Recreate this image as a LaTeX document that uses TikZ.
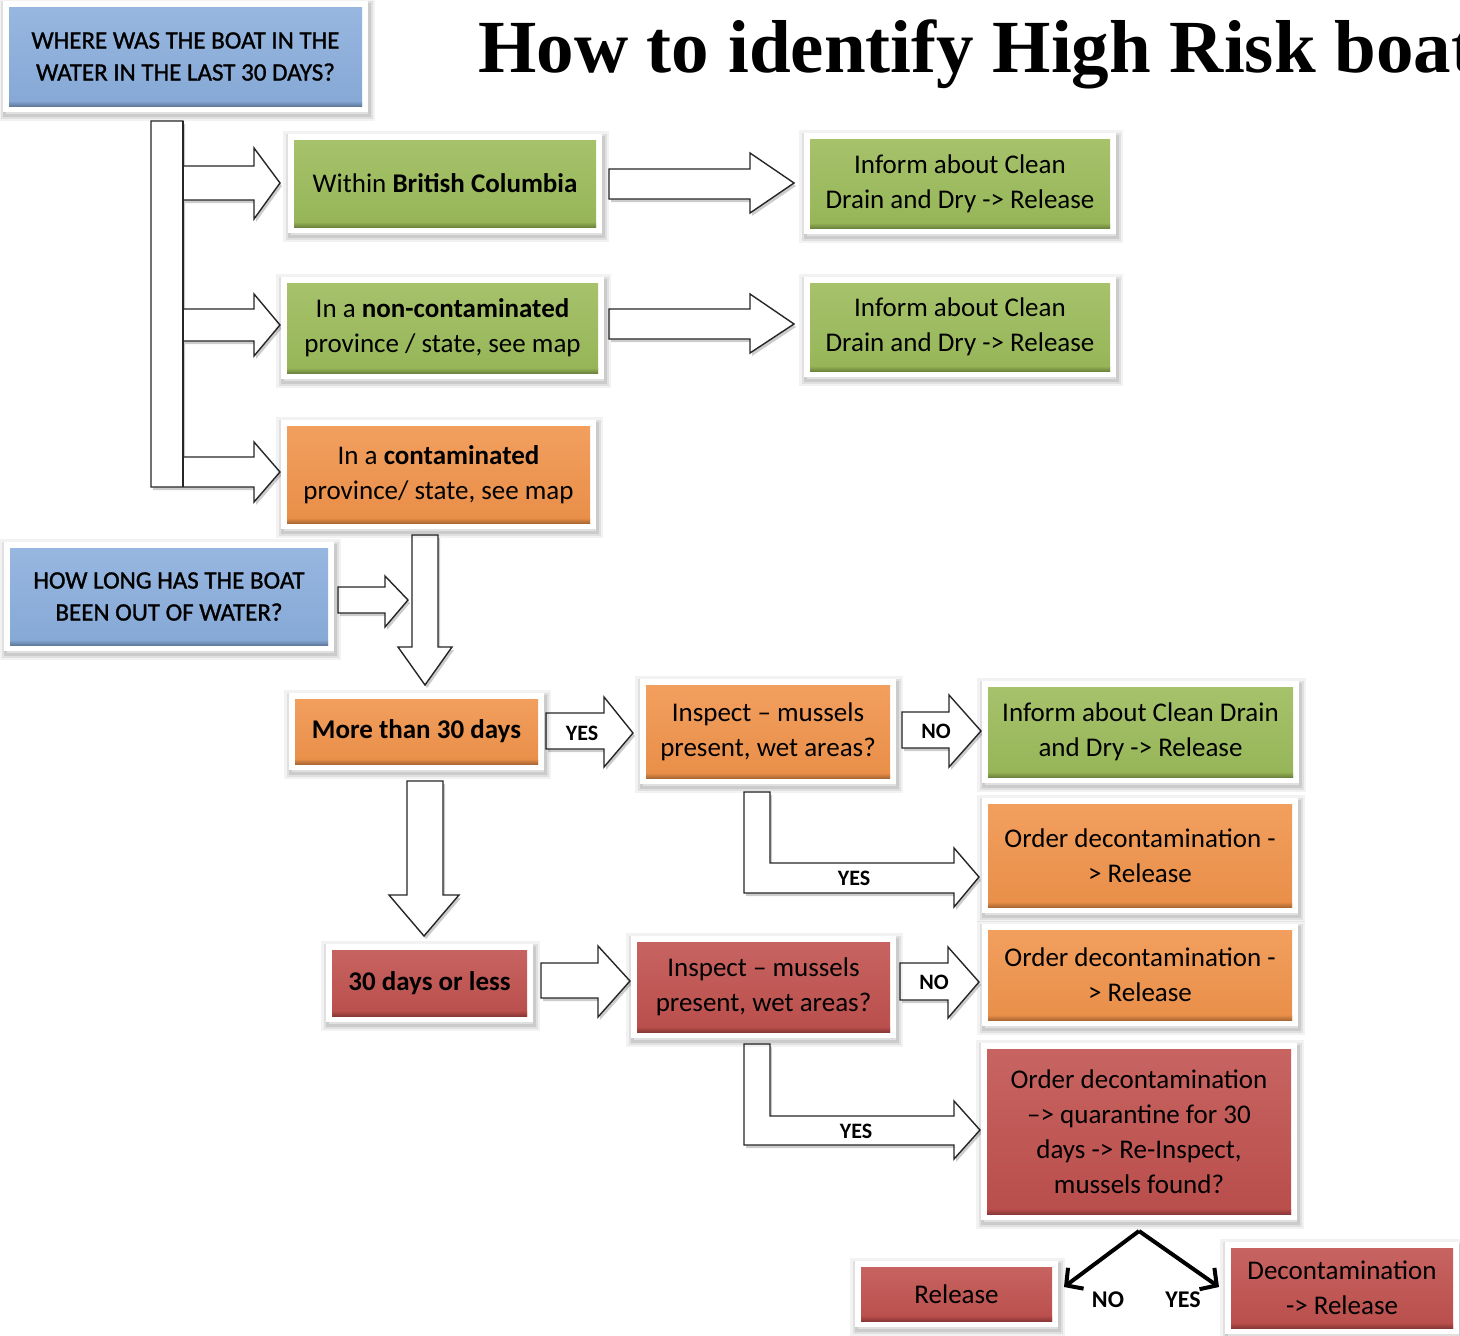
\documentclass[tikz,border=0pt]{standalone}
\usepackage{fontspec}
\setmainfont{Carlito}
\newfontfamily\capsfam[FakeBold=1.2]{Carlito}
\newfontfamily\titlefont{Liberation Serif}
\usetikzlibrary{shadows,arrows.meta}
\definecolor{cblue}{HTML}{8AAEDD}
\definecolor{cgreen}{HTML}{9BBB59}
\definecolor{corange}{HTML}{F1934A}
\definecolor{cred}{HTML}{C0504D}
\tikzset{
  fb/.style={rectangle, fill=white, inner sep=0pt, align=center,
    font=\fontsize{27}{35}\selectfont, text=black,
    preaction={draw=black, opacity=0.05, line width=12pt, transform canvas={xshift=1pt,yshift=-3pt}},
    preaction={draw=black, opacity=0.07, line width=7pt, transform canvas={xshift=1pt,yshift=-3pt}},
    preaction={draw=black, opacity=0.09, line width=3pt, transform canvas={xshift=1pt,yshift=-3pt}},
    path picture={
      \shade[top color=#1!88!white, bottom color=#1!96!black]
        ([shift={(6pt,6pt)}]path picture bounding box.south west) rectangle
        ([shift={(-6pt,-6pt)}]path picture bounding box.north east);
      \shade[top color=#1!96!black, bottom color=#1!65!black, opacity=0.8]
        ([shift={(6pt,6pt)}]path picture bounding box.south west) rectangle
        ([shift={(-6pt,11pt)}]path picture bounding box.south east);
    }},
  capsfont/.style={font=\capsfam\fontsize{25}{32}\selectfont},
  barrow/.style={draw=black!85, line width=1.4pt, fill=white, line join=miter,
    drop shadow={shadow xshift=2pt, shadow yshift=-3pt, opacity=0.2, fill=black}},
  albl/.style={font=\fontsize{22}{24}\selectfont\bfseries, inner sep=0pt, text=black},
  blbl/.style={font=\fontsize{24}{26}\selectfont\bfseries, inner sep=0pt, text=black},
  blk/.style={line width=4pt, -{Straight Barb[length=12pt,width=26pt,line width=4pt]}},
}
\begin{document}
\begin{tikzpicture}[x=1pt,y=-1pt]
\useasboundingbox (0,0) rectangle (1460,1336);
\clip (0,0) rectangle (1460,1336);
\fill[white] (0,0) rectangle (1460,1336);

% title
\node[anchor=base west, inner sep=0pt, font=\titlefont\bfseries\fontsize{75}{80}\selectfont] (title) at (478,72) {How to identify High Risk boat};

% block arrows
\draw[barrow] (151,121) -- (183,121) -- (183,166) -- (254,166) -- (254,148) -- (280,183) -- (254,219) -- (254,200) -- (183,200)
  -- (183,309) -- (254,309) -- (254,294) -- (280,325) -- (254,356) -- (254,341) -- (183,341)
  -- (183,457) -- (254,457) -- (254,442) -- (280,472) -- (254,502) -- (254,487) -- (151,487) -- cycle;
\draw[black!85, line width=1.4pt] (183,121) -- (183,487);
\draw[barrow] (609,169) -- (750,169) -- (750,153) -- (794,183) -- (750,213) -- (750,199) -- (609,199) -- cycle;
\draw[barrow] (609,309) -- (750,309) -- (750,294) -- (794,324) -- (750,353) -- (750,339) -- (609,339) -- cycle;
\draw[barrow] (412,535) -- (438,535) -- (438,647) -- (452,647) -- (425,685) -- (398,647) -- (412,647) -- cycle;
\draw[barrow] (338,587) -- (385,587) -- (385,576) -- (408,600) -- (385,627) -- (385,613) -- (338,613) -- cycle;
\draw[barrow] (546,713) -- (604,713) -- (604,697) -- (633,733) -- (604,767) -- (604,749) -- (546,749) -- cycle;
\draw[barrow] (902,712) -- (949,712) -- (949,695) -- (981,731) -- (949,767) -- (949,748) -- (902,748) -- cycle;
\draw[barrow] (407,781) -- (443,781) -- (443,895) -- (459,895) -- (424,936) -- (389,895) -- (407,895) -- cycle;
\draw[barrow] (541,963) -- (598,963) -- (598,946) -- (630,981) -- (598,1017) -- (598,998) -- (541,998) -- cycle;
\draw[barrow] (900,963) -- (948,963) -- (948,947) -- (979,982) -- (948,1018) -- (948,1000) -- (900,1000) -- cycle;
\draw[barrow] (744,792) -- (770,792) -- (770,863) -- (954,863) -- (954,848) -- (979,877) -- (954,907) -- (954,893) -- (744,893) -- cycle;
\draw[barrow] (744,1044) -- (770,1044) -- (770,1116) -- (954,1116) -- (954,1101) -- (980,1130) -- (954,1159) -- (954,1145) -- (744,1145) -- cycle;

% arrow labels
\node[albl] (yes1) at (582,733) {YES};
\node[albl] (no1) at (936,731) {NO};
\node[albl] (no2) at (934,982) {NO};
\node[albl] (yes2) at (854,878) {YES};
\node[albl] (yes3) at (856,1131) {YES};

% boxes
\node[fb=cblue, capsfont, minimum width=365pt, minimum height=111pt] (b1) at (185.5,56.5) {WHERE WAS THE BOAT IN THE\\WATER IN THE LAST 30 DAYS?};
\node[fb=cgreen, minimum width=314pt, minimum height=99pt] (g1) at (445,183.5) {Within \textbf{British Columbia}};
\node[fb=cgreen, minimum width=312pt, minimum height=101pt] (g2) at (960,183.5) {Inform about Clean\\Drain and Dry -> Release};
\node[fb=cgreen, minimum width=323pt, minimum height=102pt] (g3) at (442.5,328) {In a \textbf{non-contaminated}\\province / state, see map};
\node[fb=cgreen, minimum width=312pt, minimum height=100pt] (g4) at (960,327) {Inform about Clean\\Drain and Dry -> Release};
\node[fb=corange, minimum width=315pt, minimum height=109pt] (o1) at (438.5,474.5) {In a \textbf{contaminated}\\province/ state, see map};
\node[fb=cblue, capsfont, minimum width=330pt, minimum height=109pt] (b2) at (169,596.5) {HOW LONG HAS THE BOAT\\BEEN OUT OF WATER?};
\node[fb=corange, minimum width=255pt, minimum height=77pt] (o2) at (416.5,731.5) {\textbf{More than 30 days}};
\node[fb=corange, minimum width=256pt, minimum height=105pt] (o3) at (768,731.5) {Inspect -- mussels\\present, wet areas?};
\node[fb=cgreen, minimum width=317pt, minimum height=102pt] (g5) at (1140.5,732) {Inform about Clean Drain\\and Dry -> Release};
\node[fb=corange, minimum width=316pt, minimum height=115pt] (o4) at (1140,855.5) {Order decontamination -\\> Release};
\node[fb=cred, minimum width=207pt, minimum height=78pt] (r1) at (429.5,983) {\textbf{30 days or less}};
\node[fb=cred, minimum width=265pt, minimum height=102pt] (r2) at (763.5,987) {Inspect -- mussels\\present, wet areas?};
\node[fb=corange, minimum width=316pt, minimum height=102pt] (o5) at (1140,975) {Order decontamination -\\> Release};
\node[fb=cred, minimum width=316pt, minimum height=177pt] (r3) at (1139,1131.5) {Order decontamination\\--> quarantine for 30\\days -> Re-Inspect,\\mussels found?};
\node[fb=cred, minimum width=203pt, minimum height=66pt] (r4) at (956.5,1294) {Release};
\node[fb=cred, minimum width=234pt, minimum height=92pt] (r5) at (1342,1288) {Decontamination\\-> Release};

% bottom decision arrows
\coordinate (apex) at (1139,1231);
\coordinate (noTip) at (1064,1287);
\coordinate (yesTip) at (1219,1287);
\draw[blk] (apex) -- (noTip);
\draw[blk] (apex) -- (yesTip);
\node[blbl] (no3) at (1108,1300) {NO};
\node[blbl] (yes4) at (1183,1300) {YES};
\end{tikzpicture}
\end{document}
